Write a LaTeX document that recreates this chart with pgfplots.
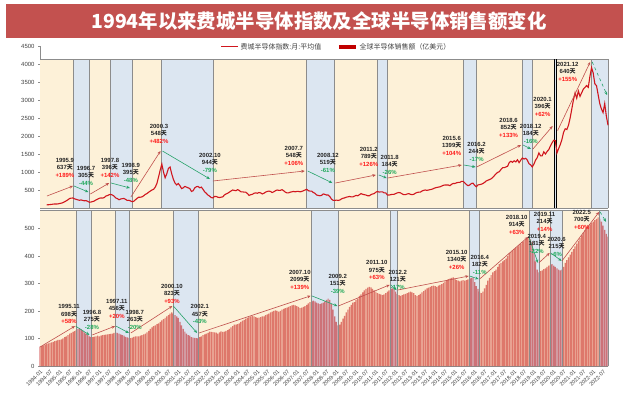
\documentclass[border=0pt]{standalone}
\usepackage{pgfplots}
\pgfplotsset{compat=1.18}
\usepackage{pgfplotstable}
\usetikzlibrary{arrows.meta}
\usepackage{fontspec}
\setmainfont{Liberation Sans}
\newfontfamily\cjk{Noto Sans CJK SC}
\definecolor{cream}{HTML}{FDF1D8}
\definecolor{lblue}{HTML}{DCE6F1}
\definecolor{soxc}{HTML}{D0161E}
\definecolor{salesc}{HTML}{C00000}
\definecolor{arrred}{HTML}{C0504D}
\definecolor{arrgreen}{HTML}{26A269}
\definecolor{pctred}{HTML}{FF1A1A}
\definecolor{pctgreen}{HTML}{1FA85A}
\definecolor{banner}{HTML}{C3514F}
\definecolor{edgec}{HTML}{8C8C8C}
\definecolor{txt}{HTML}{262626}

\pgfplotstableread[row sep=\\]{v\\
88\\90\\95\\100\\108\\112\\110\\115\\
125\\135\\150\\175\\200\\230\\265\\275\\278\\255\\240\\225\\
215\\225\\210\\200\\205\\185\\160\\165\\180\\195\\225\\245\\
270\\280\\275\\290\\330\\345\\370\\377\\360\\330\\280\\260\\
230\\250\\260\\265\\240\\210\\215\\195\\175\\190\\230\\270\\
300\\300\\310\\340\\380\\400\\440\\470\\500\\520\\580\\680\\
860\\1050\\1220\\1000\\840\\950\\1100\\1139\\950\\800\\694\\640\\
680\\620\\540\\560\\600\\580\\560\\540\\460\\480\\560\\590\\
600\\560\\580\\520\\450\\410\\360\\330\\290\\280\\320\\320\\
300\\290\\300\\310\\360\\390\\410\\440\\470\\500\\490\\480\\
510\\490\\450\\450\\440\\440\\400\\350\\370\\380\\410\\420\\
410\\430\\420\\390\\410\\440\\460\\470\\460\\430\\450\\480\\
500\\490\\490\\510\\480\\440\\420\\420\\440\\450\\460\\450\\
460\\460\\450\\460\\480\\500\\520\\480\\470\\470\\430\\410\\
360\\350\\340\\350\\390\\380\\360\\360\\320\\250\\215\\210\\
220\\210\\220\\250\\270\\280\\300\\310\\320\\310\\310\\330\\
350\\340\\370\\400\\380\\370\\360\\340\\340\\370\\390\\400\\
440\\460\\440\\450\\450\\420\\420\\360\\360\\370\\380\\380\\
400\\420\\430\\420\\390\\370\\370\\390\\400\\380\\370\\380\\
410\\430\\440\\440\\470\\490\\500\\490\\500\\510\\520\\540\\
560\\570\\580\\590\\610\\630\\640\\640\\640\\620\\660\\680\\
680\\700\\710\\710\\740\\740\\700\\650\\620\\640\\680\\690\\
630\\590\\640\\650\\660\\680\\710\\750\\770\\790\\810\\850\\
900\\950\\990\\1010\\1070\\1120\\1120\\1140\\1160\\1260\\1300\\1270\\
1310\\1280\\1340\\1260\\1330\\1390\\1360\\1380\\1330\\1230\\1200\\1140\\
1220\\1330\\1400\\1530\\1450\\1450\\1560\\1500\\1570\\1620\\1720\\1810\\
1880\\1870\\1530\\1650\\1760\\1900\\2100\\2200\\2180\\2300\\2500\\2750\\
3000\\3200\\3050\\3250\\3100\\3200\\3300\\3350\\3400\\3350\\3650\\3900\\
3750\\3450\\3400\\3150\\2900\\2750\\2650\\2900\\2550\\2300\\
}\soxtable

\pgfplotstableread[row sep=\\]{v\\
70\\72\\75\\78\\80\\82\\84\\86\\88\\90\\92\\95\\
95\\97\\100\\105\\108\\112\\118\\120\\124\\127\\130\\135\\
138\\133\\128\\122\\118\\112\\108\\105\\105\\107\\108\\110\\
108\\110\\112\\113\\114\\115\\116\\117\\118\\120\\121\\120\\
118\\115\\112\\110\\106\\104\\102\\101\\103\\106\\108\\108\\
108\\110\\112\\115\\118\\122\\128\\135\\140\\145\\148\\152\\
155\\160\\166\\170\\175\\180\\185\\190\\195\\190\\185\\180\\
175\\160\\148\\135\\125\\118\\112\\110\\105\\103\\102\\101\\
100\\105\\108\\112\\115\\118\\120\\125\\124\\123\\122\\121\\
118\\122\\126\\124\\125\\128\\130\\135\\140\\145\\150\\150\\
152\\155\\160\\165\\168\\172\\175\\178\\180\\182\\180\\178\\
175\\176\\178\\180\\180\\185\\188\\190\\195\\198\\200\\202\\
200\\198\\200\\205\\208\\210\\212\\215\\218\\220\\222\\220\\
218\\215\\210\\212\\215\\218\\222\\228\\232\\235\\238\\235\\
230\\228\\225\\228\\230\\235\\240\\245\\240\\225\\205\\180\\
160\\148\\150\\160\\172\\182\\195\\205\\215\\222\\230\\232\\
240\\245\\255\\260\\268\\275\\280\\285\\288\\286\\280\\275\\
270\\265\\262\\260\\258\\260\\265\\270\\275\\280\\282\\280\\
270\\262\\258\\255\\258\\260\\262\\265\\268\\270\\268\\265\\
258\\255\\258\\262\\268\\272\\278\\282\\285\\288\\290\\292\\
290\\288\\292\\295\\298\\302\\308\\312\\316\\318\\320\\322\\
318\\312\\310\\308\\310\\312\\310\\312\\315\\318\\320\\322\\
305\\290\\280\\270\\265\\270\\282\\295\\310\\320\\330\\340\\
345\\350\\360\\370\\375\\380\\385\\390\\400\\410\\415\\420\\
425\\430\\435\\440\\445\\450\\455\\460\\465\\470\\460\\450\\
410\\380\\350\\340\\345\\348\\352\\355\\360\\365\\368\\370\\
365\\360\\355\\350\\348\\350\\360\\375\\385\\395\\405\\415\\
425\\435\\445\\455\\465\\475\\485\\495\\505\\510\\515\\520\\
525\\530\\535\\540\\535\\525\\510\\495\\480\\470\\
}\salestable

\pgfplotsset{
  arrR/.style={draw=arrred, line width=0.6bp, -{Stealth[length=3.5bp,width=3bp]}, forget plot, mark=none},
  arrG/.style={draw=arrgreen, line width=0.6bp, -{Stealth[length=3.5bp,width=3bp]}, forget plot, mark=none},
  bandC/.style={fill=cream, draw=none, forget plot, mark=none},
  bandB/.style={fill=lblue, draw=none, forget plot, mark=none},
  edge/.style={draw=edgec, line width=0.7bp, forget plot, mark=none},
}
\tikzset{lab/.style={anchor=north, align=center, inner sep=0pt, text=txt, font=\fontsize{6}{7.6}\selectfont\bfseries}}
\newcommand{\lab}[6]{\node[lab] at (axis cs:#1,#2) {#3\\#4{\cjk 天}\\\textcolor{#6}{#5}};}

\begin{document}
\begin{tikzpicture}[x=1bp,y=1bp]
\useasboundingbox (0,0) rectangle (640,398);
\fill[white] (0,0) rectangle (640,398);
\fill[banner] (6,360) rectangle (623,394);
\node[text=white, font=\fontsize{19.5}{20}\selectfont\bfseries\cjk] at (319,377) {1994年以来费城半导体指数及全球半导体销售额变化};

% ---------- top panel ----------
\begin{axis}[at={(40bp,190bp)}, anchor=south west, scale only axis,
  width=568bp, height=162bp,
  xmin=1994, xmax=2022.75, ymin=0, ymax=4500,
  axis x line*=bottom, axis y line*=left,
  xtick=\empty, ytick={500,1000,...,4500},
  tick align=outside, major tick length=2bp,
  tick style={edgec}, axis line style={edgec},
  /pgf/number format/assume math mode=true,
  /pgf/number format/1000 sep={},
  yticklabel style={font=\fontsize{6}{6}\selectfont, text=darkgray},
  clip=false,
  legend style={at={(0.522,0.994)}, anchor=center, draw=none, fill=none,
    font=\fontsize{7}{7}\selectfont\cjk, text=darkgray,
    /tikz/every even column/.append style={column sep=14bp}},
  legend columns=2,
]
\addlegendimage{soxc, line width=1bp}
\addlegendentry{费城半导体指数:月:平均值}
\addlegendimage{salesc, line width=3.5bp}
\addlegendentry{全球半导体销售额（亿美元）}

\addplot[bandC] coordinates {(1994,4140)(2022.75,4140)} \closedcycle;
\addplot[bandB] coordinates {(1995.667,4140)(1996.5,4140)} \closedcycle;
\addplot[bandB] coordinates {(1997.583,4140)(1998.667,4140)} \closedcycle;
\addplot[bandB] coordinates {(2000.167,4140)(2002.75,4140)} \closedcycle;
\addplot[bandB] coordinates {(2007.5,4140)(2008.917,4140)} \closedcycle;
\addplot[bandB] coordinates {(2011.083,4140)(2011.583,4140)} \closedcycle;
\addplot[bandB] coordinates {(2015.417,4140)(2016.083,4140)} \closedcycle;
\addplot[bandB] coordinates {(2018.417,4140)(2018.917,4140)} \closedcycle;
\addplot[bandB] coordinates {(2020.05,4140)(2020.12,4140)} \closedcycle;
\addplot[bandB] coordinates {(2021.917,4140)(2022.75,4140)} \closedcycle;
\addplot[edge] coordinates {(1994,4140)(2022.75,4140)};
\addplot[edge] coordinates {(1995.667,0)(1995.667,4140)};
\addplot[edge] coordinates {(1996.5,0)(1996.5,4140)};
\addplot[edge] coordinates {(1997.583,0)(1997.583,4140)};
\addplot[edge] coordinates {(1998.667,0)(1998.667,4140)};
\addplot[edge] coordinates {(2000.167,0)(2000.167,4140)};
\addplot[edge] coordinates {(2002.75,0)(2002.75,4140)};
\addplot[edge] coordinates {(2007.5,0)(2007.5,4140)};
\addplot[edge] coordinates {(2008.917,0)(2008.917,4140)};
\addplot[edge] coordinates {(2011.083,0)(2011.083,4140)};
\addplot[edge] coordinates {(2011.583,0)(2011.583,4140)};
\addplot[edge] coordinates {(2015.417,0)(2015.417,4140)};
\addplot[edge] coordinates {(2016.083,0)(2016.083,4140)};
\addplot[edge] coordinates {(2018.417,0)(2018.417,4140)};
\addplot[edge] coordinates {(2018.917,0)(2018.917,4140)};
\addplot[edge, draw=black] coordinates {(2020.05,0)(2020.05,4140)};
\addplot[edge, draw=black] coordinates {(2020.12,0)(2020.12,4140)};
\addplot[edge] coordinates {(2021.917,0)(2021.917,4140)};
\addplot[edge] coordinates {(2022.75,0)(2022.75,4140)};

\addplot[soxc, line width=1.1bp, mark=none, forget plot] table[x expr={1994+(\coordindex+4)/12}, y=v] {\soxtable};

\addplot[arrR] coordinates {(1994.35,333)(1995.67,611)};
\addplot[arrG] coordinates {(1995.72,611)(1996.45,444)};
\addplot[arrR] coordinates {(1996.55,389)(1997.5,694)};
\addplot[arrG] coordinates {(1997.6,694)(1998.55,556)};
\addplot[arrR] coordinates {(1998.6,305)(2000.1,1583)};
\addplot[arrG] coordinates {(2000.2,1583)(2002.6,805)};
\addplot[arrR] coordinates {(2002.75,750)(2007.4,1028)};
\addplot[arrG] coordinates {(2007.55,1028)(2008.8,694)};
\addplot[arrR] coordinates {(2008.95,694)(2011.0,917)};
\addplot[arrG] coordinates {(2011.15,917)(2011.55,833)};
\addplot[arrR] coordinates {(2011.6,833)(2015.35,1194)};
\addplot[arrG] coordinates {(2015.45,1194)(2016.05,1139)};
\addplot[arrR] coordinates {(2016.1,1139)(2018.35,1750)};
\addplot[arrG] coordinates {(2018.45,1750)(2018.85,1639)};
\addplot[arrR] coordinates {(2018.95,1639)(2019.95,2278)};
\addplot[arrR] coordinates {(2020.2,2150)(2021.85,4056)};
\addplot[arrG, dashed] coordinates {(2021.95,4056)(2022.7,3139)};

\lab{1995.26}{1389}{1995.9}{637}{+189\%}{pctred}
\lab{1996.33}{1167}{1996.7}{305}{-44\%}{pctgreen}
\lab{1997.54}{1389}{1997.8}{396}{+142\%}{pctred}
\lab{1998.6}{1250}{1998.9}{395}{-48\%}{pctgreen}
\lab{2000.02}{2333}{2000.3}{548}{+482\%}{pctred}
\lab{2002.6}{1528}{2002.10}{944}{-79\%}{pctgreen}
\lab{2006.85}{1722}{2007.7}{548}{+106\%}{pctred}
\lab{2008.57}{1528}{2008.12}{519}{-61\%}{pctgreen}
\lab{2010.64}{1694}{2011.2}{789}{+126\%}{pctred}
\lab{2011.7}{1472}{2011.8}{184}{-26\%}{pctgreen}
\lab{2014.84}{2000}{2015.6}{1399}{+104\%}{pctred}
\lab{2016.1}{1833}{2016.2}{244}{-17\%}{pctgreen}
\lab{2017.72}{2500}{2018.6}{852}{+133\%}{pctred}
\lab{2018.84}{2333}{2018.12}{184}{-16\%}{pctgreen}
\lab{2019.44}{3083}{2020.1}{396}{+62\%}{pctred}
\lab{2020.71}{4056}{2021.12}{640}{+155\%}{pctred}
\end{axis}

% ---------- bottom panel ----------
\begin{axis}[at={(40bp,32bp)}, anchor=south west, scale only axis,
  width=568bp, height=156bp,
  xmin=1994, xmax=2022.75, ymin=0, ymax=567,
  axis x line*=bottom, axis y line*=left,
  ytick={0,100,...,500},
  xtick={1994,1994.5,...,2022.5},
  xticklabels={1994-01,1994-07,1995-01,1995-07,1996-01,1996-07,1997-01,1997-07,1998-01,1998-07,1999-01,1999-07,2000-01,2000-07,2001-01,2001-07,2002-01,2002-07,2003-01,2003-07,2004-01,2004-07,2005-01,2005-07,2006-01,2006-07,2007-01,2007-07,2008-01,2008-07,2009-01,2009-07,2010-01,2010-07,2011-01,2011-07,2012-01,2012-07,2013-01,2013-07,2014-01,2014-07,2015-01,2015-07,2016-01,2016-07,2017-01,2017-07,2018-01,2018-07,2019-01,2019-07,2020-01,2020-07,2021-01,2021-07,2022-01,2022-07},
  xticklabel style={rotate=45, anchor=north east, font=\fontsize{5.5}{5.5}\selectfont, text=darkgray, inner sep=1bp},
  x tick style={draw=none},
  tick align=outside, major tick length=2bp,
  tick style={edgec}, axis line style={edgec},
  /pgf/number format/assume math mode=true,
  yticklabel style={font=\fontsize{6}{6}\selectfont, text=darkgray},
  clip=false,
]
\addplot[bandC] coordinates {(1994,567)(2022.75,567)} \closedcycle;
\addplot[bandB] coordinates {(1995.833,567)(1996.583,567)} \closedcycle;
\addplot[bandB] coordinates {(1997.833,567)(1998.5,567)} \closedcycle;
\addplot[bandB] coordinates {(2000.75,567)(2002.0,567)} \closedcycle;
\addplot[bandB] coordinates {(2007.75,567)(2009.083,567)} \closedcycle;
\addplot[bandB] coordinates {(2011.75,567)(2012.083,567)} \closedcycle;
\addplot[bandB] coordinates {(2015.75,567)(2016.25,567)} \closedcycle;
\addplot[bandB] coordinates {(2018.75,567)(2019.25,567)} \closedcycle;
\addplot[bandB] coordinates {(2019.833,567)(2020.417,567)} \closedcycle;
\addplot[bandB] coordinates {(2022.333,567)(2022.75,567)} \closedcycle;

\addplot[ybar, bar width=0.062, fill=salesc, fill opacity=0.5, draw=none, forget plot] table[x expr={1994+\coordindex/12}, y=v] {\salestable};

\addplot[edge] coordinates {(1994,567)(2022.75,567)};
\addplot[edge] coordinates {(1995.833,0)(1995.833,567)};
\addplot[edge] coordinates {(1996.583,0)(1996.583,567)};
\addplot[edge] coordinates {(1997.833,0)(1997.833,567)};
\addplot[edge] coordinates {(1998.5,0)(1998.5,567)};
\addplot[edge] coordinates {(2000.75,0)(2000.75,567)};
\addplot[edge] coordinates {(2002.0,0)(2002.0,567)};
\addplot[edge] coordinates {(2007.75,0)(2007.75,567)};
\addplot[edge] coordinates {(2009.083,0)(2009.083,567)};
\addplot[edge] coordinates {(2011.75,0)(2011.75,567)};
\addplot[edge] coordinates {(2012.083,0)(2012.083,567)};
\addplot[edge] coordinates {(2015.75,0)(2015.75,567)};
\addplot[edge] coordinates {(2016.25,0)(2016.25,567)};
\addplot[edge] coordinates {(2018.75,0)(2018.75,567)};
\addplot[edge] coordinates {(2019.25,0)(2019.25,567)};
\addplot[edge] coordinates {(2019.833,0)(2019.833,567)};
\addplot[edge] coordinates {(2020.417,0)(2020.417,567)};
\addplot[edge] coordinates {(2022.333,0)(2022.333,567)};
\addplot[edge] coordinates {(2022.75,0)(2022.75,567)};

\addplot[arrR] coordinates {(1994.0,69)(1995.77,145)};
\addplot[arrG] coordinates {(1995.8,145)(1996.5,113)};
\addplot[arrR] coordinates {(1996.65,113)(1997.8,145)};
\addplot[arrG] coordinates {(1997.85,145)(1998.5,120)};
\addplot[arrR] coordinates {(1998.6,120)(2000.7,218)};
\addplot[arrG] coordinates {(2000.75,218)(2001.95,120)};
\addplot[arrR] coordinates {(2002.05,120)(2007.7,255)};
\addplot[arrG] coordinates {(2007.75,255)(2009.05,218)};
\addplot[arrR] coordinates {(2009.1,218)(2011.7,295)};
\addplot[arrG] coordinates {(2011.75,295)(2012.05,276)};
\addplot[arrR] coordinates {(2012.1,276)(2015.7,327)};
\addplot[arrG] coordinates {(2015.75,327)(2016.2,316)};
\addplot[arrR] coordinates {(2016.25,316)(2018.7,469)};
\addplot[arrG] coordinates {(2018.75,469)(2019.2,375)};
\addplot[arrR] coordinates {(2019.25,375)(2019.8,411)};
\addplot[arrG] coordinates {(2019.85,411)(2020.4,382)};
\addplot[arrR] coordinates {(2020.42,382)(2022.3,560)};
\addplot[arrG, dashed] coordinates {(2022.35,560)(2022.65,524)};

\lab{1995.47}{225}{1995.11}{698}{+58\%}{pctred}
\lab{1996.63}{204}{1996.8}{275}{-28\%}{pctgreen}
\lab{1997.89}{244}{1997.11}{456}{+20\%}{pctred}
\lab{1998.8}{204}{1998.7}{263}{-20\%}{pctgreen}
\lab{2000.68}{298}{2000.10}{823}{+93\%}{pctred}
\lab{2002.09}{225}{2002.1}{457}{-43\%}{pctgreen}
\lab{2007.15}{349}{2007.10}{2099}{+139\%}{pctred}
\lab{2009.07}{335}{2009.2}{151}{-39\%}{pctgreen}
\lab{2011.05}{385}{2011.10}{975}{+63\%}{pctred}
\lab{2012.11}{349}{2012.2}{121}{-17\%}{pctgreen}
\lab{2015.09}{422}{2015.10}{1340}{+26\%}{pctred}
\lab{2016.26}{404}{2016.4}{182}{-11\%}{pctgreen}
\lab{2018.13}{549}{2018.10}{914}{+63\%}{pctred}
\lab{2019.14}{480}{2019.4}{181}{-22\%}{pctgreen}
\lab{2019.54}{560}{2019.11}{214}{+14\%}{pctred}
\lab{2020.15}{469}{2020.6}{215}{-6\%}{pctgreen}
\lab{2021.42}{567}{2022.5}{700}{+60\%}{pctred}
\end{axis}
\end{tikzpicture}
\end{document}
